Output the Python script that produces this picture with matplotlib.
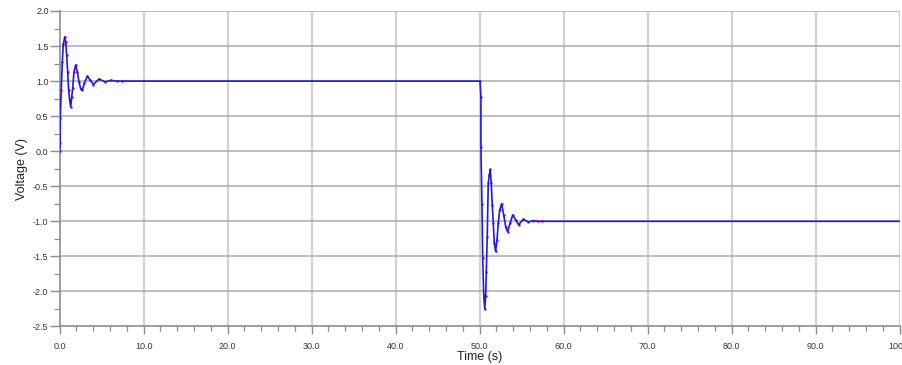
import matplotlib
matplotlib.use("Agg")
import matplotlib.pyplot as plt
from matplotlib.ticker import MultipleLocator, FormatStrFormatter

plt.rcParams['font.family'] = ['Liberation Sans', 'DejaVu Sans']
plt.rcParams['axes.unicode_minus'] = False

# Step response after the rising edge at t = 0 s
rise_t = [0.0, 0.05, 0.07, 0.19, 0.31, 0.43, 0.60, 0.71, 0.83, 0.95, 1.07, 1.19,
          1.31, 1.43, 1.55, 1.70, 1.90, 2.10, 2.30, 2.50, 2.70, 2.93, 3.29, 3.60,
          4.00, 4.68, 5.40, 6.10, 6.80, 7.40]
rise_v = [0.0, 0.11, 0.47, 0.88, 1.27, 1.53, 1.63, 1.56, 1.37, 1.13, 0.87, 0.73,
          0.63, 0.77, 0.90, 1.13, 1.23, 1.13, 0.99, 0.89, 0.87, 0.97, 1.07, 1.02,
          0.95, 1.03, 0.99, 1.01, 1.00, 1.00]

# Step response after the falling edge at t = 50 s
fall_t = [50.04, 50.15, 50.15, 50.27, 50.36, 50.48, 50.60, 50.71, 50.79, 50.90,
          51.02, 51.14, 51.26, 51.38, 51.50, 51.62, 51.74, 51.90, 52.06, 52.21,
          52.38, 52.62, 52.86, 53.10, 53.33, 53.61, 53.93, 54.29, 54.64, 55.19,
          55.79, 56.38, 56.98, 57.38]
fall_v = [1.00, 0.77, 0.06, -0.75, -1.53, -2.05, -2.25, -2.07, -1.72, -1.22,
          -0.46, -0.34, -0.26, -0.46, -0.77, -1.03, -1.31, -1.43, -1.27, -1.03,
          -0.84, -0.75, -0.91, -1.08, -1.15, -1.03, -0.91, -0.98, -1.05, -0.97,
          -1.01, -0.99, -1.00, -1.00]

# Settled level after the second transient
t_end = 100.0
v_end = -1.0

time = rise_t + fall_t + [t_end]
volt = rise_v + fall_v + [v_end]

sample_t = rise_t + fall_t
sample_v = rise_v + fall_v

fig = plt.figure(figsize=(9.03, 3.65), dpi=100)
ax = fig.add_axes([0.0661, 0.1055, 0.9302, 0.8644])

ax.plot(sample_t, sample_v, linestyle='none', marker='o', markersize=1.8,
        color='#ff0000', markeredgewidth=0, zorder=3)
ax.plot(time, volt, color='#1a1ae6', linewidth=1.2, zorder=4)

ax.set_xlim(0, 100)
ax.set_ylim(-2.5, 2.0)

ax.xaxis.set_major_locator(MultipleLocator(10))
ax.xaxis.set_minor_locator(MultipleLocator(2))
ax.yaxis.set_major_locator(MultipleLocator(0.5))
ax.yaxis.set_minor_locator(MultipleLocator(0.25))
ax.xaxis.set_major_formatter(FormatStrFormatter('%.1f'))
ax.yaxis.set_major_formatter(FormatStrFormatter('%.1f'))

ax.grid(False)
for x in range(10, 101, 10):
    ax.axvline(x, color='#d2d2d2', linewidth=1.6, zorder=1)
for y in [-2.0, -1.5, -1.0, -0.5, 0.0, 0.5, 1.0, 1.5, 2.0]:
    ax.axhline(y, color='#ababab', linewidth=1.1, zorder=1)

for side in ('top', 'right'):
    ax.spines[side].set_visible(False)
for side in ('left', 'bottom'):
    ax.spines[side].set_color('#8c8c8c')
    ax.spines[side].set_linewidth(1.2)

ax.tick_params(axis='both', which='major', colors='#8c8c8c', labelcolor='#333333',
               labelsize=6.5, width=1.0)
ax.tick_params(axis='x', which='major', length=6, pad=5)
ax.tick_params(axis='x', which='minor', length=3.5, width=0.9, colors='#8c8c8c')
ax.tick_params(axis='y', which='major', length=7, pad=1)
ax.tick_params(axis='y', which='minor', length=4.5, width=0.9, colors='#8c8c8c')

ax.set_xlabel('Time (s)', fontsize=9, color='#222222', labelpad=0)
ax.set_ylabel('Voltage (V)', fontsize=9, color='#222222', labelpad=4)

fig.savefig('out.png', dpi=100)
